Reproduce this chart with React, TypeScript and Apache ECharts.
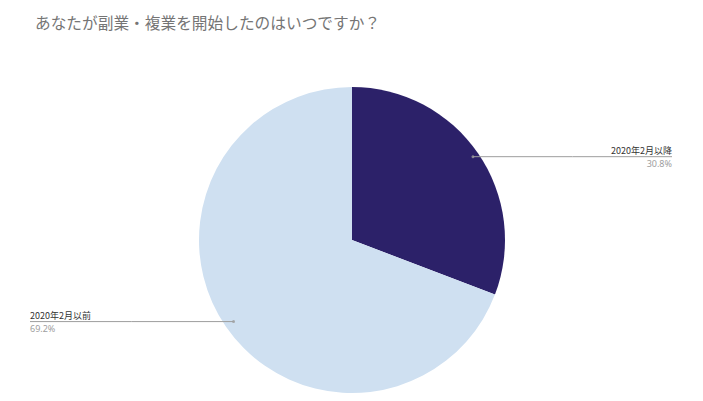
import React, { useEffect, useRef } from "react";
import * as echarts from "echarts";

const title = "あなたが副業・複業を開始したのはいつですか？";
const categories = ["2020年2月以降", "2020年2月以前"];
const shares = [30.8, 69.2];
const colors = ["#2c2169", "#cfe0f1"];

const W = 703;
const H = 401;
const CX = 352;
const CY = 240;
const R = 153;
// how far out (fraction of radius) each label line starts inside its slice
const anchorR = [0.96, 0.94];

const App: React.FC = () => {
  const chartRef = useRef<HTMLDivElement>(null);

  useEffect(() => {
    const chart = echarts.init(chartRef.current!, undefined, { renderer: "svg" });
    const total = shares.reduce((a, b) => a + b, 0);

    // mid value of each slice (cumulative), clockwise from 12 o'clock
    let acc = 0;
    const midVals = shares.map((v) => {
      const mid = acc + v / 2;
      acc += v;
      return mid;
    });
    const mids = midVals.map((m) => (m / total) * Math.PI * 2);

    const base = {
      type: "pie",
      center: [CX, CY],
      radius: R,
      startAngle: 90,
      clockwise: true,
      silent: true,
    };

    chart.setOption({
      animation: false,
      title: {
        text: title,
        left: 30,
        top: 10,
        textStyle: {
          fontFamily: "'Noto Sans CJK JP', 'Noto Sans', sans-serif",
          fontSize: 15.7,
          fontWeight: "normal",
          color: "#757575",
        },
      },
      polar: { center: [CX, CY], radius: R },
      angleAxis: { type: "value", min: 0, max: total, startAngle: 90, clockwise: true, show: false },
      radiusAxis: { type: "value", min: 0, max: 1, show: false },
      series: [
        {
          ...base,
          label: { show: false },
          labelLine: { show: false },
          data: categories.map((name, i) => ({
            name,
            value: shares[i],
            itemStyle: { color: colors[i] },
          })),
        },
        // transparent copy on top, only to carry the labels and their lines
        {
          ...base,
          z: 3,
          itemStyle: { color: "transparent" },
          data: categories.map((name, i) => ({ name, value: shares[i] })),
          label: {
            show: true,
            position: "outside",
            formatter: (p: any) => `{a|${p.name}}\n{b|${p.value.toFixed(1)}%}`,
            rich: {
              a: {
                fontFamily: "'Noto Sans CJK JP', sans-serif",
                fontSize: 9,
                color: "#333333",
                lineHeight: 13,
              },
              b: {
                fontFamily: "'Noto Sans', sans-serif",
                fontSize: 9,
                color: "#9e9e9e",
                lineHeight: 13,
              },
            },
          },
          labelLine: {
            show: true,
            lineStyle: { color: "#9e9e9e", width: 1 },
          },
          labelLayout: (params: any) => {
            const i = params.dataIndex;
            const th = mids[i];
            const rr = R * anchorR[i];
            const px = CX + rr * Math.sin(th);
            const py = CY - rr * Math.cos(th);
            const right = Math.sin(th) > 0;
            const ex = right ? 672 : 30;
            return {
              x: ex,
              y: py,
              align: right ? "right" : "left",
              verticalAlign: "middle",
              labelLinePoints: [
                [px, py],
                [(px + ex) / 2, py],
                [ex, py],
              ],
            };
          },
        },
        // small dots where the label lines start
        {
          type: "scatter",
          coordinateSystem: "polar",
          silent: true,
          z: 4,
          symbolSize: 3,
          itemStyle: { color: "#9e9e9e" },
          data: midVals.map((m, i) => [anchorR[i], m]),
        },
      ],
    });

    return () => {
      chart.dispose();
    };
  }, []);

  return (
    <div
      ref={chartRef}
      style={{ position: "absolute", left: 0, top: 0, width: W, height: H, background: "#fff" }}
    />
  );
};

export default App;
